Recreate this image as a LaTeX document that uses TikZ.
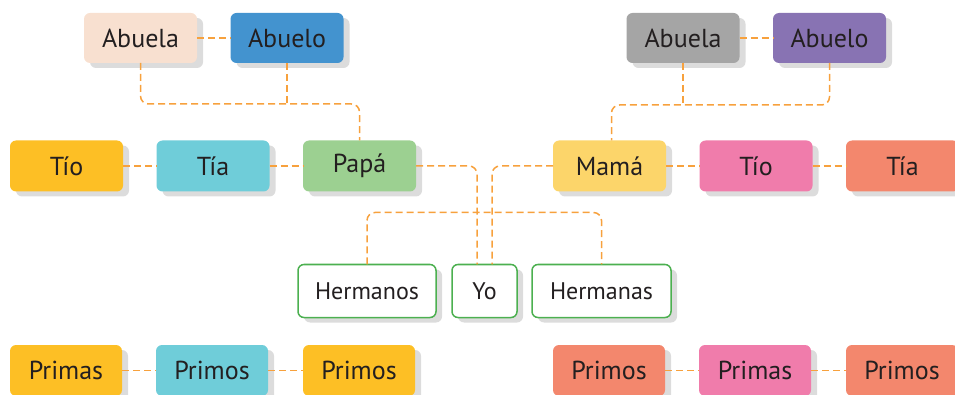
\documentclass[tikz,border=0pt]{standalone}
\usepackage{fontspec}
\setmainfont{PT Sans}
\usetikzlibrary{positioning,shadows,calc}
\definecolor{linkorange}{HTML}{F7A13D}
\definecolor{shadowgray}{HTML}{DCDCDC}
\definecolor{textgray}{HTML}{231F20}
\definecolor{kidgreen}{HTML}{4CB050}
\definecolor{peach}{HTML}{F8E0D0}
\definecolor{blueb}{HTML}{4393CF}
\definecolor{grayb}{HTML}{A5A5A5}
\definecolor{purpleb}{HTML}{8873B3}
\definecolor{yellowb}{HTML}{FDBF25}
\definecolor{cyanb}{HTML}{6FCDD9}
\definecolor{greenb}{HTML}{9CD091}
\definecolor{lightyellow}{HTML}{FCD56A}
\definecolor{pinkb}{HTML}{F07CAB}
\definecolor{salmonb}{HTML}{F3876D}

\begin{document}
\begin{tikzpicture}[x=1pt,y=1pt,node distance=33.5pt,
  box/.style={rounded corners=6pt,minimum width=113pt,minimum height=50pt,inner sep=0pt,outer sep=0pt,
    text=textgray,font=\fontsize{26}{28}\selectfont,
    general shadow={fill=shadowgray,shadow xshift=6pt,shadow yshift=-5pt}},
  kid/.style={box,fill=white,draw=kidgreen,line width=1.5pt,minimum height=53pt,font=\fontsize{24}{26}\selectfont},
  cousin/.style={box,minimum width=112pt,minimum height=51pt},
  link/.style={draw=linkorange,line width=1.5pt,dash pattern=on 7pt off 4pt,rounded corners=8pt}]

  \useasboundingbox (0,0) rectangle (955,-395);

  % abuelos
  \node[box,fill=peach] (abuelaP) at (140.5,-38) {Abuela};
  \node[box,fill=blueb] (abueloP) [right=of abuelaP] {Abuelo};
  \node[box,fill=grayb] (abuelaM) at (683,-38) {Abuela};
  \node[box,fill=purpleb] (abueloM) [right=of abuelaM] {Abuelo};

  % padres y tios
  \node[box,fill=yellowb,minimum height=51pt] (tioP) at (66.5,-166) {Tío};
  \node[box,fill=cyanb,minimum height=51pt] (tiaP) [right=of tioP] {Tía};
  \node[box,fill=greenb,minimum height=51pt] (papa) [right=of tiaP] {Papá};
  \node[box,fill=lightyellow,minimum height=51pt] (mama) at (609.5,-166) {Mamá};
  \node[box,fill=pinkb,minimum height=51pt] (tioM) [right=of mama] {Tío};
  \node[box,fill=salmonb,minimum height=51pt] (tiaM) [right=of tioM] {Tía};

  % yo
  \node[kid,minimum width=65pt] (yo) at (484.5,-291) {Yo};
  \node[kid,minimum width=138pt] (hermanos) [left=16pt of yo] {Hermanos};
  \node[kid,minimum width=139pt] (hermanas) [right=15pt of yo] {Hermanas};

  % primos
  \node[cousin,fill=yellowb] (primasP) at (66,-370.5) {Primas};
  \node[cousin,fill=cyanb] (primosP) [right=34pt of primasP] {Primos};
  \node[cousin,fill=yellowb] (primosP2) [right=35pt of primosP] {Primos};
  \node[cousin,fill=salmonb] (primosM) at (609,-370.5) {Primos};
  \node[cousin,fill=pinkb] (primasM) [right=34pt of primosM] {Primas};
  \node[cousin,fill=salmonb] (primosM2) [right=35pt of primasM] {Primos};

  \coordinate (yoL) at ($(yo.north)+(-7.5,0)$);
  \coordinate (yoR) at ($(yo.north)+(7.5,0)$);

  \draw[link] (abuelaP) -- (abueloP);
  \draw[link] (abuelaM) -- (abueloM);
  \draw[link] (abuelaP.south) -- ++(0,-41) -| (papa.north);
  \draw[link] (abueloP.south) -- ++(0,-41);
  \draw[link] (abueloM.south) -- ++(0,-42) -| ($(mama.north)+(2,0)$);
  \draw[link] (abuelaM.south) -- ++(0,-42);

  \draw[link] (tioP) -- (tiaP);
  \draw[link] (tiaP) -- (papa);
  \draw[link] (mama) -- (tioM);
  \draw[link] (tioM) -- (tiaM);
  \draw[link] (papa.east) -| (yoL);
  \draw[link] (mama.west) -| (yoR);
  \draw[link] (hermanos.north) -- ++(0,52) -| (hermanas.north);

  \draw[link] (primasP) -- (primosP);
  \draw[link] (primosP) -- (primosP2);
  \draw[link] (primosM) -- (primasM);
  \draw[link] (primasM) -- (primosM2);
\end{tikzpicture}
\end{document}
